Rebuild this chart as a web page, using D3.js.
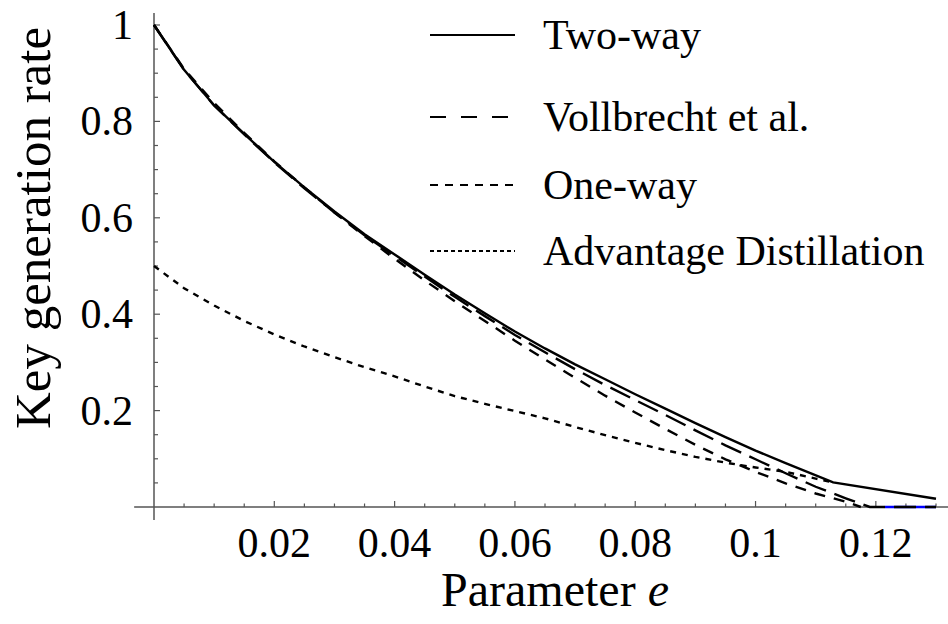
<!DOCTYPE html>
<html><head><meta charset="utf-8">
<script src="https://cdn.jsdelivr.net/npm/d3@7"></script>
<style>
html,body{margin:0;padding:0;background:#fff;}
svg{display:block;}
text{font-family:"Liberation Serif","Times New Roman",Times,serif;fill:#000;}
</style></head>
<body>
<svg id="chart" width="948" height="624"></svg>
<script>
// ---- data ----
const xTickValues = [0.02, 0.04, 0.06, 0.08, 0.1, 0.12];
const xTickLabels = ["0.02", "0.04", "0.06", "0.08", "0.1", "0.12"];
const yTickValues = [0.2, 0.4, 0.6, 0.8, 1.0];
const yTickLabels = ["0.2", "0.4", "0.6", "0.8", "1"];

const twoWayE = [0, 0.005, 0.01, 0.015, 0.02, 0.025, 0.03, 0.035, 0.04, 0.045, 0.05, 0.055, 0.06, 0.065, 0.07, 0.075, 0.08, 0.085, 0.09, 0.095, 0.1, 0.105, 0.1129, 0.13];
const twoWayR = [1, 0.907, 0.833, 0.774, 0.716, 0.663, 0.613, 0.566, 0.524, 0.482, 0.441, 0.402, 0.364, 0.329, 0.296, 0.265, 0.234, 0.204, 0.174, 0.145, 0.117, 0.091, 0.051, 0.017];

const vollE = [0, 0.005, 0.01, 0.015, 0.02, 0.025, 0.03, 0.035, 0.04, 0.045, 0.05, 0.055, 0.06, 0.065, 0.07, 0.075, 0.08, 0.085, 0.09, 0.095, 0.1, 0.105, 0.11, 0.115, 0.119, 0.13];
const vollR = [1, 0.907, 0.833, 0.773, 0.715, 0.661, 0.611, 0.564, 0.521, 0.478, 0.436, 0.396, 0.357, 0.321, 0.286, 0.253, 0.222, 0.191, 0.159, 0.128, 0.099, 0.070, 0.042, 0.018, 0, 0];

const oneWayE = [0, 0.005, 0.01, 0.015, 0.02, 0.025, 0.03, 0.035, 0.04, 0.045, 0.05, 0.055, 0.06, 0.065, 0.07, 0.075, 0.08, 0.085, 0.09, 0.095, 0.1, 0.105, 0.11, 0.115, 0.1175];
const oneWayR = [1, 0.909, 0.838, 0.776, 0.717, 0.663, 0.611, 0.562, 0.515, 0.470, 0.427, 0.386, 0.345, 0.306, 0.268, 0.231, 0.196, 0.162, 0.129, 0.099, 0.073, 0.049, 0.028, 0.011, 0];

const advE = [0, 0.005, 0.01, 0.015, 0.02, 0.025, 0.03, 0.035, 0.04, 0.045, 0.05, 0.055, 0.06, 0.065, 0.07, 0.075, 0.08, 0.085, 0.09, 0.095, 0.1, 0.105, 0.11, 0.1129];
const advR = [0.5, 0.454, 0.418, 0.386, 0.358, 0.333, 0.311, 0.290, 0.271, 0.250, 0.230, 0.214, 0.199, 0.184, 0.166, 0.149, 0.133, 0.118, 0.104, 0.092, 0.082, 0.073, 0.059, 0.051];

const zeroE = [0.1215, 0.13];
const zeroR = [0, 0];

const seriesNames = ["Two-way", "Vollbrecht et al.", "One-way", "Advantage Distillation"];

// ---- layout ----
const svg = d3.select("#chart");
const x = d3.scaleLinear().domain([0, 0.13]).range([154, 936]);
const y = d3.scaleLinear().domain([0, 1]).range([507, 25]);

const axisColor = "#555";
const dashes = {
  "Two-way": null,
  "Vollbrecht et al.": "22,9",
  "One-way": "11,9",
  "Advantage Distillation": "6,6"
};

// ---- axes ----
const gx = svg.append("g").attr("transform", `translate(0,${y(0)})`);
gx.append("line").attr("x1", x(-0.0033)).attr("x2", x(0.1325)).attr("stroke", axisColor).attr("stroke-width", 1.5);
const xMinor = d3.range(0.005, 0.1301, 0.005).filter(v => !xTickValues.some(t => Math.abs(t - v) < 1e-9));
gx.selectAll(".xminor").data(xMinor).join("line")
  .attr("x1", d => x(d)).attr("x2", d => x(d)).attr("y1", 0).attr("y2", -3.5)
  .attr("stroke", axisColor).attr("stroke-width", 1.2);
gx.selectAll(".xmajor").data(xTickValues).join("line")
  .attr("x1", d => x(d)).attr("x2", d => x(d)).attr("y1", 0).attr("y2", -6)
  .attr("stroke", axisColor).attr("stroke-width", 1.2);
gx.selectAll(".xlab").data(xTickValues).join("text")
  .attr("x", d => x(d)).attr("y", 50).attr("text-anchor", "middle")
  .attr("font-size", 42).text((d, i) => xTickLabels[i]);

const gy = svg.append("g").attr("transform", `translate(${x(0)},0)`);
gy.append("line").attr("y1", y(-0.027)).attr("y2", y(1.025)).attr("stroke", axisColor).attr("stroke-width", 1.5);
const yMinor = d3.range(0.05, 1.001, 0.05).filter(v => !yTickValues.some(t => Math.abs(t - v) < 1e-9));
gy.selectAll(".yminor").data(yMinor).join("line")
  .attr("y1", d => y(d)).attr("y2", d => y(d)).attr("x1", 0).attr("x2", 4)
  .attr("stroke", axisColor).attr("stroke-width", 1.2);
gy.selectAll(".ymajor").data(yTickValues).join("line")
  .attr("y1", d => y(d)).attr("y2", d => y(d)).attr("x1", 0).attr("x2", 6)
  .attr("stroke", axisColor).attr("stroke-width", 1.2);
gy.selectAll(".ylab").data(yTickValues).join("text")
  .attr("x", -21).attr("y", d => y(d) + 14).attr("text-anchor", "end")
  .attr("font-size", 42).text((d, i) => yTickLabels[i]);

// axis titles
svg.append("text").attr("transform", "translate(50,228) rotate(-90)")
  .attr("text-anchor", "middle").attr("font-size", 51).text("Key generation rate");
const xt = svg.append("text").attr("x", 555).attr("y", 606).attr("text-anchor", "middle").attr("font-size", 48);
xt.append("tspan").text("Parameter ");
xt.append("tspan").attr("font-style", "italic").text("e");

// ---- curves ----
const line = d3.line().x(d => x(d[0])).y(d => y(d[1]));
const zip = (a, b) => a.map((v, i) => [v, b[i]]);

svg.append("path").datum(zip(zeroE, zeroR)).attr("d", line)
  .attr("fill", "none").attr("stroke", "#0000ff").attr("stroke-width", 2.4);

const curves = [
  {name: "Advantage Distillation", data: zip(advE, advR)},
  {name: "One-way", data: zip(oneWayE, oneWayR)},
  {name: "Vollbrecht et al.", data: zip(vollE, vollR)},
  {name: "Two-way", data: zip(twoWayE, twoWayR)}
];
svg.selectAll(".curve").data(curves).join("path")
  .attr("d", d => line(d.data))
  .attr("fill", "none").attr("stroke", "#000").attr("stroke-width", 2.4)
  .attr("stroke-dasharray", d => dashes[d.name]);

// ---- legend ----
const legendY = [35, 117, 185, 251];
const legendDash = {
  "Two-way": null,
  "Vollbrecht et al.": "16,15",
  "One-way": "8,7",
  "Advantage Distillation": "4,3"
};
const lg = svg.append("g");
lg.selectAll(".ll").data(seriesNames).join("line")
  .attr("x1", 430).attr("x2", 515).attr("y1", (d, i) => legendY[i]).attr("y2", (d, i) => legendY[i])
  .attr("stroke", "#000").attr("stroke-width", 2).attr("stroke-dasharray", d => legendDash[d]);
lg.selectAll(".lt").data(seriesNames).join("text")
  .attr("x", 543).attr("y", (d, i) => legendY[i] + 14).attr("font-size", 42).text(d => d);
</script>
</body></html>
